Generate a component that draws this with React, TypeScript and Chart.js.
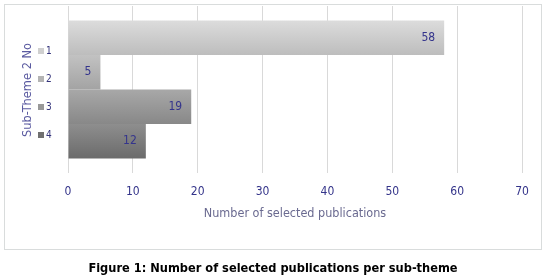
import React, { useEffect, useRef } from "react";
import { Chart, registerables } from "chart.js";

Chart.register(...registerables);

const categories = [""];
const seriesLabels = ["1", "2", "3", "4"];
const seriesValues = [58, 5, 19, 12];
const xTicks = [0, 10, 20, 30, 40, 50, 60, 70];
const gradTop = ["#dcdcdc", "#c2c2c2", "#a8a8a8", "#8e8e8e"];
const gradBottom = ["#bdbdbd", "#a3a3a3", "#888888", "#6b6b6b"];
const legendSwatch = ["#d0d0d0", "#b4b4b4", "#999999", "#707070"];
const legendTitle = "Sub-Theme 2 No";
const xTitle = "Number of selected publications";
const caption = "Figure 1: Number of selected publications per sub-theme";

const FONT = "'DejaVu Sans Condensed', 'DejaVu Sans', sans-serif";

export default function App() {
  const ref = useRef<HTMLCanvasElement | null>(null);

  useEffect(() => {
    const canvas = ref.current;
    if (!canvas) return;

    const bgFor = (i: number) => (ctx: any) => {
      const chart = ctx.chart;
      const meta = chart.getDatasetMeta(ctx.datasetIndex);
      const el: any = meta && meta.data ? meta.data[ctx.dataIndex] : null;
      if (!el || el.y == null || !el.height || isNaN(el.y)) return legendSwatch[i];
      const top = el.y - el.height / 2;
      const bottom = el.y + el.height / 2;
      const g = chart.ctx.createLinearGradient(0, top, 0, bottom);
      g.addColorStop(0, gradTop[i]);
      g.addColorStop(1, gradBottom[i]);
      return g;
    };

    const labelPlugin = {
      id: "valueLabels",
      afterDatasetsDraw(chart: any) {
        const ctx = chart.ctx;
        ctx.save();
        ctx.font = `12px ${FONT}`;
        ctx.fillStyle = "#34348c";
        ctx.textAlign = "right";
        ctx.textBaseline = "middle";
        chart.data.datasets.forEach((ds: any, di: number) => {
          const meta = chart.getDatasetMeta(di);
          meta.data.forEach((el: any, i: number) => {
            ctx.fillText(String(ds.data[i]), el.x - 9, el.y);
          });
        });
        ctx.restore();
      },
    };

    const legendPlugin = {
      id: "sideLegend",
      afterDraw(chart: any) {
        const ctx = chart.ctx;
        ctx.save();
        ctx.translate(28, 90);
        ctx.rotate(-Math.PI / 2);
        ctx.font = `12.7px ${FONT}`;
        ctx.fillStyle = "#5a5aa0";
        ctx.textAlign = "center";
        ctx.textBaseline = "middle";
        ctx.fillText(legendTitle, 0, 0);
        ctx.restore();

        ctx.save();
        ctx.font = `10px ${FONT}`;
        ctx.textBaseline = "middle";
        ctx.textAlign = "left";
        seriesLabels.forEach((lab, i) => {
          const cy = 51 + i * 28;
          ctx.fillStyle = legendSwatch[i];
          ctx.fillRect(38, cy - 3, 6, 6);
          ctx.fillStyle = "#33337a";
          ctx.fillText(lab, 46, cy);
        });
        ctx.restore();
      },
    };

    const chart = new Chart(canvas, {
      type: "bar",
      data: {
        labels: categories,
        datasets: seriesLabels.map((lab, i) => ({
          label: lab,
          data: [seriesValues[i]],
          backgroundColor: bgFor(i),
          borderWidth: 0,
          categoryPercentage: 0.827,
          barPercentage: 1,
        })),
      },
      options: {
        indexAxis: "y",
        responsive: false,
        animation: false,
        events: [],
        layout: { padding: { left: 68, right: 31, top: 6, bottom: 0 } },
        plugins: {
          legend: { display: false },
          tooltip: { enabled: false },
          title: { display: false },
        },
        scales: {
          y: { display: false },
          x: {
            min: 0,
            max: 70,
            afterBuildTicks(scale: any) {
              scale.ticks = xTicks.map((v) => ({ value: v }));
            },
            afterFit(scale: any) {
              scale.height = 104;
            },
            grid: { color: "#d9d9d9", drawTicks: false, lineWidth: 1 },
            border: { display: false },
            ticks: {
              padding: 12,
              color: "#34348a",
              font: { family: FONT, size: 12 },
            },
            title: {
              display: true,
              text: xTitle,
              color: "#6a6a90",
              font: { family: FONT, size: 12.5 },
              padding: { top: 0, bottom: 56 },
            },
          },
        },
      },
      plugins: [labelPlugin, legendPlugin],
    } as any);
    chart.update();

    return () => chart.destroy();
  }, []);

  return (
    <div style={{ position: "absolute", left: 0, top: 0, width: 553, height: 277, background: "#ffffff" }}>
      <div
        style={{
          position: "absolute",
          left: 4,
          top: 4,
          width: 536,
          height: 244,
          border: "1px solid #d9dcdc",
        }}
      />
      <canvas ref={ref} width={553} height={277} style={{ position: "absolute", left: 0, top: 0, width: 553, height: 277 }} />
      <div
        style={{
          position: "absolute",
          left: 4,
          width: 538,
          top: 260,
          textAlign: "center",
          fontFamily: FONT,
          fontWeight: "bold",
          fontSize: 12.7,
          lineHeight: "16px",
          color: "#000000",
          whiteSpace: "nowrap",
        }}
      >
        {caption}
      </div>
    </div>
  );
}
